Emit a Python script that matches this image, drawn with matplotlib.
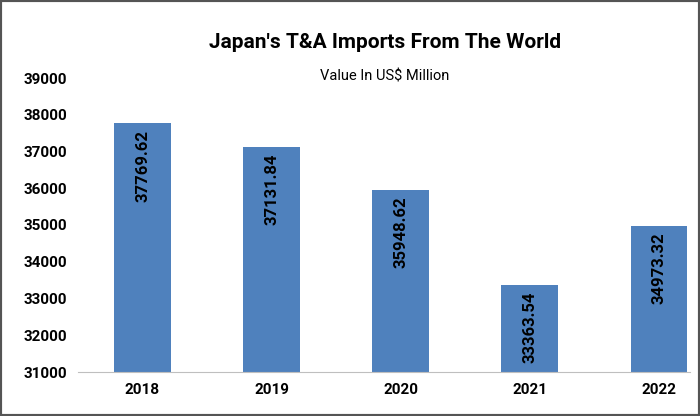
import matplotlib.pyplot as plt

years = ["2018", "2019", "2020", "2021", "2022"]
values = [37769.62, 37131.84, 35948.62, 33363.54, 34973.32]
yticks = list(range(31000, 39001, 1000))

fig = plt.figure(figsize=(7, 4.16), dpi=100)
ax = fig.add_axes([78/700, 44/416, 612/700, 294/416])

x = range(len(years))
ax.bar(x, values, width=0.44, color="#4F81BD", bottom=0)
ax.set_ylim(31000, 39000)
ax.set_xlim(-0.5, 4.24)
ax.set_yticks(yticks)
ax.set_xticks(list(x))
ax.set_xticklabels(years)
for lab in ax.get_xticklabels() + ax.get_yticklabels():
    lab.set_fontweight("bold")
    lab.set_fontsize(11)
    lab.set_fontfamily("Roboto")
ax.tick_params(length=0, pad=8)

for i, v in enumerate(values):
    ax.text(i, v - 180, f"{v:.2f}", rotation=90, ha="center", va="top",
            fontsize=12, fontweight="bold", family="Roboto")

for s in ["top", "right", "left"]:
    ax.spines[s].set_visible(False)
ax.spines["bottom"].set_color("#BFBFBF")

fig.text(0.55, 1 - 42/416, "Japan's T&A Imports From The World", ha="center",
         va="center", fontsize=15, fontweight="bold", family="Roboto")
fig.text(0.55, 1 - 77/416, "Value In US$ Million", ha="center", va="center",
         fontsize=10.5, family="Roboto")

border = plt.Rectangle((0, 0), 1, 1, transform=fig.transFigure, fill=False,
                       edgecolor="#555555", linewidth=3)
fig.patches.append(border)

fig.savefig("out.png", dpi=100)
